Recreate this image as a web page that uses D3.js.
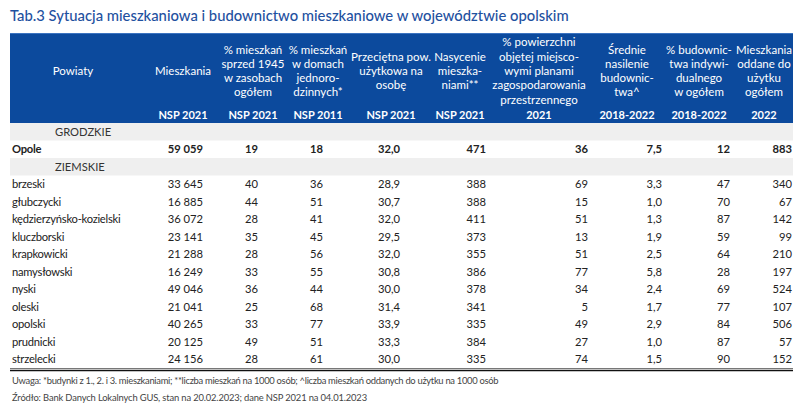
<!DOCTYPE html>
<html><head><meta charset="utf-8">
<script src="https://cdn.jsdelivr.net/npm/d3@7/dist/d3.min.js"></script>
<style>
html,body{margin:0;padding:0;background:#fff;}
svg{display:block;font-family:Lato, "Open Sans", sans-serif;}
</style></head>
<body><svg id="c" width="800" height="406"></svg>
<script>
// ---- DATA ----
const title = "Tab.3 Sytuacja mieszkaniowa i budownictwo mieszkaniowe w województwie opolskim";
const headers = [
  ["Powiaty"],
  ["Mieszkania"],
  ["% mieszkań","sprzed 1945","w zasobach","ogółem"],
  ["% mieszkań","w domach","jednoro-","dzinnych*"],
  ["Przeciętna pow.","użytkowa na","osobę"],
  ["Nasycenie","mieszka-","niami**"],
  ["% powierzchni","objętej miejsco-","wymi planami","zagospodarowania","przestrzennego"],
  ["Średnie","nasilenie","budownic-","twa^"],
  ["% budownic-","twa indywi-","dualnego","w ogółem"],
  ["Mieszkania","oddane do","użytku","ogółem"]
];
const subHeaders = ["","NSP 2021","NSP 2021","NSP 2011","NSP 2021","NSP 2021","2021","2018-2022","2018-2022","2022"];
const groupLabels = ["GRODZKIE","ZIEMSKIE"];
const cityName = "Opole";
const cityValues = [59059, 19, 18, 32.0, 471, 36, 7.5, 12, 883];
const powiaty = ["brzeski","głubczycki","kędzierzyńsko-kozielski","kluczborski","krapkowicki","namysłowski","nyski","oleski","opolski","prudnicki","strzelecki"];
const mieszkania   = [33645,16885,36072,23141,21288,16249,49046,21041,40265,20125,24156];
const sprzed1945   = [40,44,28,35,28,33,36,25,33,49,28];
const jednorodzinne= [36,51,41,45,56,55,44,68,77,51,61];
const powUzytkowa  = [28.9,30.7,32.0,29.5,32.0,30.8,30.0,31.4,33.9,33.3,30.0];
const nasycenie    = [388,388,411,373,355,386,378,341,335,384,335];
const planyMiejsc  = [69,15,51,13,51,77,34,5,49,27,74];
const nasilenie    = [3.3,1.0,1.3,1.9,2.5,5.8,2.4,1.7,2.9,1.0,1.5];
const indywidualne = [47,70,87,59,64,28,69,77,84,87,90];
const oddane       = [340,67,142,99,210,197,524,107,506,57,152];
const footnote = "Uwaga: *budynki z 1., 2. i 3. mieszkaniami; **liczba mieszkań na 1000 osób; ^liczba mieszkań oddanych do użytku na 1000 osób";
const source = "Źródło: Bank Danych Lokalnych GUS, stan na 20.02.2023; dane NSP 2021 na 04.01.2023";

// ---- LAYOUT ----
const W = 800, left = 10, right = 793;
const headTop = 33, headBottom = 123, bodyBottom = 368;
const colRight = [null, 203, 258, 323, 400, 486, 588, 662, 730, 792];
const colHeadCenter = [73, 183, 253, 318, 391, 460, 539, 627, 699, 764];
const decimals = [0,0,0,0,1,0,0,1,0,0];
const headerBlue = "#0c4a9d", titleBlue = "#1f519f", textCol = "#222", grayRow = "#efefef";

const loc = d3.formatLocale({decimal: ",", thousands: "\u00a0", grouping: [3], currency: ["", ""]});
const fInt = loc.format(",d"), fDec = loc.format(",.1f");
const fmt = (v, c) => decimals[c] ? fDec(v) : fInt(v);

const seriesCols = [mieszkania, sprzed1945, jednorodzinne, powUzytkowa, nasycenie, planyMiejsc, nasilenie, indywidualne, oddane];
const rows = [];
rows.push({key: "g1", type: "group", label: groupLabels[0]});
rows.push({key: "city", type: "city", label: cityName, values: cityValues});
rows.push({key: "g2", type: "group", label: groupLabels[1]});
powiaty.forEach((p, i) => rows.push({key: "p" + i, type: "data", label: p, values: seriesCols.map(s => s[i])}));

const y = d3.scaleBand().domain(rows.map(r => r.key)).range([headBottom, bodyBottom]).paddingInner(0);
const x = d3.scaleOrdinal().domain(d3.range(10)).range(colRight);
const xh = d3.scaleOrdinal().domain(d3.range(10)).range(colHeadCenter);

const svg = d3.select("#c");
svg.append("rect").attr("width", W).attr("height", 406).attr("fill", "#fff");

svg.append("text").attr("x", 10).attr("y", 21).attr("fill", titleBlue)
  .attr("font-size", 14.8).attr("font-weight", 500).text(title);

// header
svg.append("rect").attr("x", left).attr("y", headTop).attr("width", right - left).attr("height", headBottom - headTop).attr("fill", headerBlue);
svg.append("line").attr("x1", left).attr("x2", right).attr("y1", headTop + 0.5).attr("y2", headTop + 0.5).attr("stroke", "#3b73c0").attr("stroke-width", 1);

const lh = 14.3, midY = 71;
headers.forEach((lines, c) => {
  const t = svg.append("text").attr("fill", "#fff").attr("font-size", 11.5).attr("font-weight", 400)
    .attr("text-anchor", "middle");
  const y0 = midY - (lines.length - 1) * lh / 2 + 4;
  lines.forEach((ln, k) => t.append("tspan").attr("x", xh(c)).attr("y", y0 + k * lh).text(ln));
});
subHeaders.forEach((s, c) => {
  if (!s) return;
  svg.append("text").attr("fill", "#fff").attr("font-size", 11).attr("font-weight", 700)
    .attr("text-anchor", "middle").attr("x", xh(c)).attr("y", 119).text(s);
});

// body
const fs = 11.2, ls = -0.25;
const g = svg.selectAll("g.row").data(rows).join("g").attr("class", "row")
  .attr("transform", d => `translate(0,${y(d.key)})`);
g.filter(d => d.type === "group").append("rect").attr("x", left).attr("width", right - left)
  .attr("height", y.bandwidth()).attr("fill", grayRow);
g.filter(d => d.type === "group").append("text").attr("x", 55).attr("y", y.bandwidth() / 2 + 4)
  .attr("font-size", fs).attr("fill", "#333").text(d => d.label);
g.filter(d => d.type !== "group").append("text").attr("x", 12).attr("y", y.bandwidth() / 2 + 4)
  .attr("font-size", fs).attr("letter-spacing", ls).attr("fill", textCol).attr("font-weight", d => d.type === "city" ? 700 : 400)
  .text(d => d.label);
g.filter(d => d.type !== "group").selectAll("text.v").data(d => d.values.map((v, i) => ({v, c: i + 1, bold: d.type === "city"})))
  .join("text").attr("class", "v").attr("x", d => x(d.c)).attr("y", y.bandwidth() / 2 + 4)
  .attr("text-anchor", "end").attr("font-size", fs).attr("fill", textCol)
  .attr("font-weight", d => d.bold ? 700 : 400).text(d => fmt(d.v, d.c));

// bottom double rule
svg.append("line").attr("x1", left).attr("x2", right).attr("y1", bodyBottom + 0.5).attr("y2", bodyBottom + 0.5).attr("stroke", "#777").attr("stroke-width", 1);
svg.append("line").attr("x1", left).attr("x2", right).attr("y1", bodyBottom + 2.5).attr("y2", bodyBottom + 2.5).attr("stroke", "#111").attr("stroke-width", 1.5);

svg.append("text").attr("x", 12).attr("y", 384).attr("font-size", 9.4).attr("letter-spacing", -0.3).attr("fill", "#444").text(footnote);
svg.append("text").attr("x", 12).attr("y", 401).attr("font-size", 9.4).attr("letter-spacing", -0.15).attr("fill", "#444").text(source);
</script></body></html>
